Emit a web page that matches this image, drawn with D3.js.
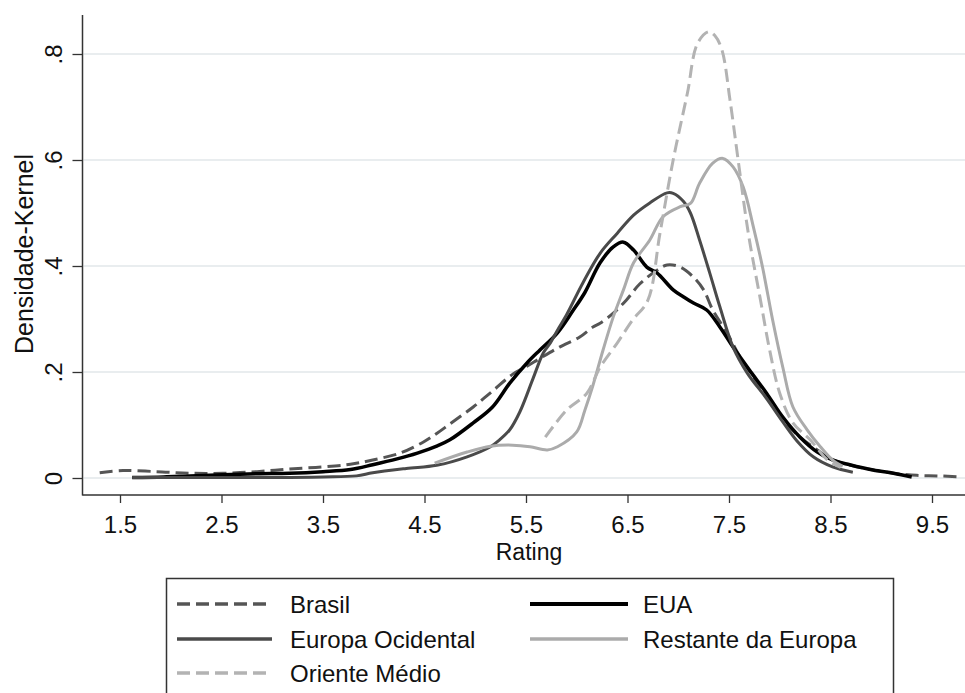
<!DOCTYPE html>
<html>
<head>
<meta charset="utf-8">
<script src="https://cdn.jsdelivr.net/npm/d3@7"></script>
<style>
  html, body { margin: 0; padding: 0; background: #fff; }
  svg { display: block; font-family: "Liberation Sans", Arial, sans-serif; }
</style>
</head>
<body>
<svg id="chart" width="965" height="693"></svg>
<script>
// Kernel density estimates of ratings by region
const ratingBrasil = [1.30,1.53,1.86,2.19,2.51,2.85,3.17,3.50,3.77,3.99,4.26,4.49,4.62,4.75,4.98,5.17,5.37,5.51,5.64,5.83,6.03,6.16,6.23,6.36,6.49,6.62,6.79,6.89,7.02,7.15,7.25,7.34,7.48,7.61,7.74,7.87,8.03,8.20,8.37,8.52,8.70,8.92,9.12,9.35,9.55,9.80];
const densBrasil   = [0.010,0.014,0.012,0.009,0.009,0.012,0.017,0.021,0.026,0.034,0.047,0.068,0.084,0.102,0.134,0.164,0.196,0.211,0.226,0.247,0.266,0.285,0.292,0.311,0.336,0.366,0.392,0.402,0.398,0.379,0.355,0.317,0.274,0.228,0.191,0.153,0.109,0.077,0.053,0.034,0.024,0.015,0.009,0.005,0.004,0.002];

const ratingEUA = [1.62,1.93,2.19,2.51,2.85,3.17,3.50,3.77,3.99,4.23,4.43,4.62,4.75,4.98,5.17,5.34,5.51,5.64,5.81,5.96,6.08,6.23,6.36,6.46,6.56,6.69,6.79,6.95,7.05,7.15,7.28,7.41,7.54,7.70,7.87,8.03,8.20,8.37,8.52,8.69,8.92,9.12,9.30];
const densEUA   = [0.001,0.002,0.004,0.006,0.008,0.009,0.012,0.016,0.025,0.036,0.047,0.060,0.072,0.104,0.134,0.179,0.217,0.242,0.274,0.315,0.350,0.406,0.436,0.445,0.430,0.398,0.387,0.355,0.342,0.330,0.317,0.285,0.247,0.204,0.160,0.115,0.077,0.049,0.034,0.025,0.015,0.009,0.002];

const ratingEuropaOcid = [1.62,2.19,2.80,3.17,3.50,3.83,3.99,4.32,4.62,4.92,5.15,5.24,5.34,5.44,5.57,5.67,5.74,5.81,5.90,6.06,6.23,6.40,6.56,6.72,6.89,6.95,7.05,7.12,7.21,7.31,7.41,7.54,7.68,7.87,8.03,8.17,8.33,8.52,8.72];
const densEuropaOcid   = [0.001,0.001,0.001,0.001,0.002,0.004,0.010,0.018,0.024,0.040,0.059,0.072,0.091,0.125,0.188,0.236,0.255,0.279,0.308,0.368,0.424,0.462,0.496,0.519,0.538,0.537,0.522,0.500,0.449,0.387,0.323,0.247,0.198,0.150,0.106,0.070,0.040,0.021,0.011];

const ratingRestEuropa = [4.60,4.92,5.15,5.37,5.54,5.71,5.81,6.00,6.08,6.16,6.26,6.36,6.46,6.56,6.72,6.85,7.02,7.12,7.21,7.34,7.44,7.54,7.64,7.74,7.83,7.93,8.03,8.13,8.27,8.40,8.52,8.62];
const densRestEuropa   = [0.028,0.049,0.060,0.062,0.059,0.053,0.059,0.087,0.128,0.175,0.242,0.304,0.355,0.406,0.449,0.493,0.512,0.518,0.556,0.594,0.603,0.587,0.549,0.474,0.398,0.298,0.209,0.134,0.091,0.059,0.034,0.022];

const ratingOriente = [5.69,5.90,6.10,6.23,6.40,6.55,6.70,6.82,6.95,7.09,7.19,7.30,7.36,7.43,7.51,7.59,7.69,7.81,7.90,8.00,8.13,8.30,8.47,8.60];
const densOriente   = [0.077,0.128,0.160,0.209,0.255,0.298,0.335,0.462,0.600,0.726,0.820,0.842,0.835,0.808,0.713,0.600,0.462,0.336,0.242,0.160,0.104,0.072,0.034,0.020];

const seriesNames = ["Brasil", "EUA", "Europa Ocidental", "Restante da Europa", "Oriente Médio"];
const xTicks = [1.5, 2.5, 3.5, 4.5, 5.5, 6.5, 7.5, 8.5, 9.5];
const yTicks = [0, 0.2, 0.4, 0.6, 0.8];
const yTickLabels = ["0", ".2", ".4", ".6", ".8"];
const xTitle = "Rating";
const yTitle = "Densidade-Kernel";

const seriesData = [
  { name: seriesNames[0], x: ratingBrasil,     y: densBrasil,     color: "#555555", width: 3,   dash: "13,6" },
  { name: seriesNames[1], x: ratingEUA,        y: densEUA,        color: "#000000", width: 3.5, dash: null },
  { name: seriesNames[2], x: ratingEuropaOcid, y: densEuropaOcid, color: "#4a4a4a", width: 3,   dash: null },
  { name: seriesNames[3], x: ratingRestEuropa, y: densRestEuropa, color: "#ababab", width: 3,   dash: null },
  { name: seriesNames[4], x: ratingOriente,    y: densOriente,    color: "#b3b3b3", width: 3,   dash: "13,6" }
];

const svg = d3.select("#chart");
const W = 965;
const axisX = 82.5, axisY = 495, plotTop = 15;

const x = d3.scaleLinear().domain([1.5, 9.5]).range([120, 932]);
const y = d3.scaleLinear().domain([0, 0.8]).range([478, 54]);

// clip region for plotted curves
svg.append("defs").append("clipPath").attr("id", "plotArea")
  .append("rect").attr("x", axisX).attr("y", plotTop).attr("width", W - axisX).attr("height", axisY - plotTop);

// horizontal grid
svg.append("g").selectAll("line").data(yTicks).join("line")
  .attr("x1", axisX + 1).attr("x2", W)
  .attr("y1", d => y(d)).attr("y2", d => y(d))
  .attr("stroke", "#e9edef").attr("stroke-width", 2);

// y axis
const yAxis = svg.append("g").attr("transform", `translate(${axisX},0)`)
  .call(d3.axisLeft(y).tickValues(yTicks).tickFormat((d, i) => yTickLabels[i]).tickSize(10).tickSizeOuter(0));
yAxis.select(".domain").remove();
yAxis.selectAll(".tick line").attr("stroke", "#333").attr("stroke-width", 1.3);
yAxis.selectAll(".tick text")
  .attr("transform", "rotate(-90)")
  .attr("x", 0).attr("y", -20.5).attr("dy", 0)
  .attr("text-anchor", "middle")
  .attr("font-size", 24).attr("fill", "#111")
  .style("font-family", "Liberation Sans, Arial, sans-serif");

// x axis
const xAxis = svg.append("g").attr("transform", `translate(0,${axisY})`)
  .call(d3.axisBottom(x).tickValues(xTicks).tickFormat(d3.format(".1f")).tickSize(8).tickSizeOuter(0));
xAxis.select(".domain").remove();
xAxis.selectAll(".tick line").attr("stroke", "#333").attr("stroke-width", 1.3);
xAxis.selectAll(".tick text")
  .attr("y", 38).attr("dy", 0)
  .attr("font-size", 24).attr("fill", "#111")
  .style("font-family", "Liberation Sans, Arial, sans-serif");

// axis lines
svg.append("line").attr("x1", axisX).attr("x2", axisX).attr("y1", plotTop).attr("y2", axisY + 0.5)
  .attr("stroke", "#333").attr("stroke-width", 1.5);
svg.append("line").attr("x1", axisX).attr("x2", W).attr("y1", axisY).attr("y2", axisY)
  .attr("stroke", "#333").attr("stroke-width", 1.5);

// axis titles
svg.append("text").attr("x", 529).attr("y", 560).attr("text-anchor", "middle")
  .attr("font-size", 23).attr("fill", "#111").text(xTitle);
svg.append("text").attr("transform", "translate(33,254) rotate(-90)").attr("text-anchor", "middle")
  .attr("font-size", 25).attr("fill", "#111").text(yTitle);

// density curves
const line = d3.line().curve(d3.curveCatmullRom.alpha(0.5))
  .x(d => x(d[0])).y(d => y(d[1]));
const curves = svg.append("g").attr("clip-path", "url(#plotArea)");
seriesData.forEach(s => {
  const pts = s.x.map((v, i) => [v, s.y[i]]);
  curves.append("path").datum(pts)
    .attr("d", line)
    .attr("fill", "none")
    .attr("stroke", s.color)
    .attr("stroke-width", s.width)
    .attr("stroke-linejoin", "round")
    .attr("stroke-dasharray", s.dash);
});

// legend
const legend = svg.append("g");
legend.append("rect").attr("x", 166.5).attr("y", 578.5).attr("width", 727).attr("height", 140)
  .attr("fill", "#fff").attr("stroke", "#333").attr("stroke-width", 1.5);
const colX = [{ l1: 177, l2: 272, t: 290 }, { l1: 530, l2: 628, t: 643 }];
const rowBase = [613, 648, 682];
seriesData.forEach((s, i) => {
  const c = colX[i % 2], r = rowBase[Math.floor(i / 2)];
  legend.append("line").attr("x1", c.l1).attr("x2", c.l2).attr("y1", r - 9).attr("y2", r - 9)
    .attr("stroke", s.color).attr("stroke-width", s.width + 0.5).attr("stroke-dasharray", s.dash);
  legend.append("text").attr("x", c.t).attr("y", r).attr("font-size", 24).attr("fill", "#111").text(s.name);
});
</script>
</body>
</html>
